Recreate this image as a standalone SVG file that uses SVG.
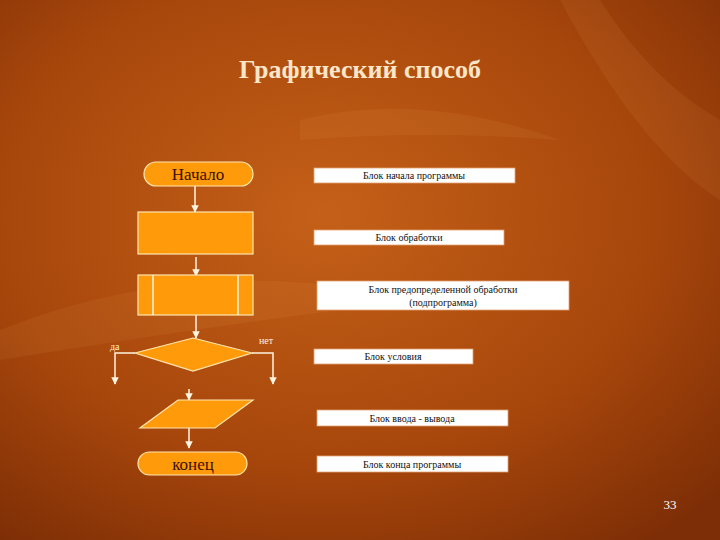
<svg xmlns="http://www.w3.org/2000/svg" width="720" height="540" viewBox="0 0 720 540">
<defs>
<radialGradient id="bg" cx="0.45" cy="0.4" r="0.75">
<stop offset="0" stop-color="#c46018"/>
<stop offset="0.6" stop-color="#a8470c"/>
<stop offset="1" stop-color="#7e2e06"/>
</radialGradient>
<marker id="ar" viewBox="0 0 10 10" refX="9" refY="5" markerWidth="5" markerHeight="5" orient="auto"><path d="M0,0L10,5L0,10z" fill="#fff4e0"/></marker>
<style>
.sh{fill:#ff9a0a;stroke:#ffe6b0;stroke-width:1.2}
.ln{stroke:#fff4e0;stroke-width:1.5;fill:none}
.cn{marker-end:url(#ar)}
.lb{fill:#fff;stroke:#e0a070;stroke-width:0.8}
.lt{font-family:"Liberation Serif",serif;font-size:10px;fill:#111;text-anchor:middle}
.nt{font-family:"Liberation Serif",serif;font-size:17px;fill:#3a1000;text-anchor:middle}
.sm{font-family:"Liberation Serif",serif;font-size:10px;fill:#fff0d8}
</style>
</defs>
<rect width="720" height="540" fill="url(#bg)"/>
<g opacity="0.07" fill="#ffc070">
<path d="M0,330 Q200,250 420,300 Q250,320 0,360z"/>
<path d="M560,0 Q640,150 720,200 L720,120 Q650,80 600,0z"/>
<path d="M300,120 Q420,90 560,140 Q430,130 300,140z"/>
</g>
<text x="360" y="78" font-family="'Liberation Serif',serif" font-size="26" font-weight="bold" fill="#fbe6c8" text-anchor="middle">Графический способ</text>
<g id="connectors">
<line class="ln cn" x1="195" y1="186" x2="195" y2="212"/>
<line class="ln cn" x1="196" y1="257" x2="196" y2="276"/>
<line class="ln cn" x1="196" y1="315" x2="196" y2="338"/>
<polyline class="ln cn" points="135,353 115,353 115,384"/>
<polyline class="ln cn" points="252,353 273,353 273,384"/>
<line class="ln cn" x1="189" y1="389" x2="189" y2="400"/>
<line class="ln cn" x1="189" y1="428" x2="189" y2="448"/>
</g>
<g id="start"><rect class="sh" x="144" y="162" width="109" height="24" rx="12"/><text class="nt" x="198" y="180">Начало</text></g>
<g id="process"><rect class="sh" x="138" y="212" width="115" height="42"/></g>
<g id="predef"><rect class="sh" x="138" y="275" width="115" height="40"/><line class="ln" x1="153" y1="275" x2="153" y2="315" stroke-width="1"/><line class="ln" x1="238" y1="275" x2="238" y2="315" stroke-width="1"/></g>
<g id="decision"><polygon class="sh" points="193,338 252,353 193,371 135,353"/><text class="sm" x="110" y="350">да</text><text class="sm" x="259" y="344">нет</text></g>
<g id="io"><polygon class="sh" points="178,400 253,400 215,428 140,428"/></g>
<g id="end"><rect class="sh" x="138" y="452" width="109" height="23" rx="11.5"/><text class="nt" x="193" y="470">конец</text></g>
<g id="labels">
<rect class="lb" x="314" y="168" width="201" height="15"/><text class="lt" x="414" y="179">Блок начала программы</text>
<rect class="lb" x="314" y="230" width="190" height="15"/><text class="lt" x="409" y="241">Блок обработки</text>
<rect class="lb" x="317" y="281" width="252" height="29"/><text class="lt" x="443" y="293">Блок предопределенной обработки</text><text class="lt" x="443" y="306">(подпрограмма)</text>
<rect class="lb" x="314" y="349" width="159" height="15"/><text class="lt" x="393" y="360">Блок условия</text>
<rect class="lb" x="317" y="410" width="191" height="16"/><text class="lt" x="412" y="422">Блок ввода - вывода</text>
<rect class="lb" x="317" y="456" width="191" height="16"/><text class="lt" x="412" y="468">Блок конца программы</text>
</g>
<text x="670" y="509" font-family="'Liberation Serif',serif" font-size="13" fill="#fff" text-anchor="middle">33</text>
</svg>
